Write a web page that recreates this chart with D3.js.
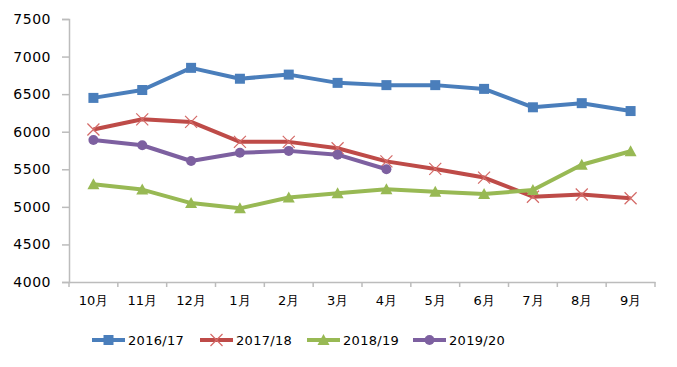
<!DOCTYPE html>
<html><head><meta charset="utf-8">
<script src="https://cdn.jsdelivr.net/npm/d3@7"></script>
<style>body{margin:0;background:#fff}svg{display:block}text{font-family:"DejaVu Sans",Verdana,sans-serif;fill:#000}</style>
</head><body><svg id="c" width="677" height="367"></svg>
<script>
const months = ["10月","11月","12月","1月","2月","3月","4月","5月","6月","7月","8月","9月"];
const yTicks = [4000,4500,5000,5500,6000,6500,7000,7500];
const seriesNames = ["2016/17","2017/18","2018/19","2019/20"];
const s2016 = [6450,6555,6850,6705,6760,6650,6620,6620,6570,6325,6380,6275];
const s2017 = [6030,6165,6130,5865,5865,5780,5605,5505,5390,5135,5165,5115];
const s2018 = [5300,5230,5050,4980,5125,5180,5235,5200,5170,5225,5560,5740];
const s2019 = [5890,5820,5610,5720,5745,5695,5500];
const colors = ["#4a7ebb","#be4b48","#98b954","#7d60a0"];
const markers = ["square","x","triangle","circle"];

const svg = d3.select("#c");
const L=69, R=655, T=19, B=282;
const x = d3.scaleBand().domain(months).range([L,R]);
const y = d3.scaleLinear().domain([4000,7500]).range([B,T]);
const axisColor="#bcbcbc";

// y axis
const ya = svg.append("g").attr("transform",`translate(${L},0)`)
  .call(d3.axisLeft(y).tickValues(yTicks).tickFormat(d3.format("d")).tickSize(7).tickPadding(11));
ya.select(".domain").attr("stroke",axisColor).attr("stroke-width",1.5);
ya.selectAll(".tick line").attr("stroke",axisColor).attr("stroke-width",1.5);
ya.selectAll("text").style("font-size","14px").style("letter-spacing","0.5px").attr("fill","#000");

// x axis
const xa = svg.append("g").attr("transform",`translate(0,${B})`)
  .call(d3.axisBottom(x).tickSize(0).tickPadding(14));
xa.select(".domain").attr("stroke",axisColor).attr("stroke-width",1.5);
xa.selectAll("text").style("font-size","13px").attr("fill","#000");
const bounds = months.map(m=>x(m)).concat([R]);
svg.append("g").selectAll("line").data(bounds).join("line")
  .attr("x1",d=>d).attr("x2",d=>d).attr("y1",B).attr("y2",B+5)
  .attr("stroke",axisColor).attr("stroke-width",1.5);

function drawMarker(g, type, cx, cy, color){
  if(type==="square") g.append("rect").attr("x",cx-5).attr("y",cy-5).attr("width",10).attr("height",10).attr("fill",color);
  else if(type==="circle") g.append("circle").attr("cx",cx).attr("cy",cy).attr("r",5).attr("fill",color);
  else if(type==="triangle") g.append("path").attr("d",`M${cx},${cy-6}L${cx+6},${cy+5}L${cx-6},${cy+5}Z`).attr("fill",color);
  else if(type==="x") g.append("path").attr("d",`M${cx-6},${cy-6}L${cx+6},${cy+6}M${cx+6},${cy-6}L${cx-6},${cy+6}`).attr("stroke","#d46a67").attr("stroke-width",1.2).attr("fill","none");
}

const all=[s2016,s2017,s2018,s2019];
const cx = i => x(months[i]) + x.bandwidth()/2;
const line = d3.line().x((d,i)=>cx(i)).y(d=>y(d));
all.forEach((s,k)=>{
  const g = svg.append("g");
  g.append("path").attr("d",line(s)).attr("fill","none").attr("stroke",colors[k]).attr("stroke-width",4).attr("stroke-linejoin","round");
  s.forEach((v,i)=>drawMarker(g,markers[k],cx(i),y(v),colors[k]));
});

// legend
const legX=[92,200,307,413];
const ly=340;
seriesNames.forEach((n,k)=>{
  const g=svg.append("g");
  g.append("line").attr("x1",legX[k]).attr("x2",legX[k]+33).attr("y1",ly).attr("y2",ly).attr("stroke",colors[k]).attr("stroke-width",4);
  drawMarker(g,markers[k],legX[k]+16.5,ly,colors[k]);
  g.append("text").attr("x",legX[k]+36).attr("y",ly).attr("dy","0.35em").style("font-size","13px").style("letter-spacing","0.3px").text(n);
});
</script></body></html>
